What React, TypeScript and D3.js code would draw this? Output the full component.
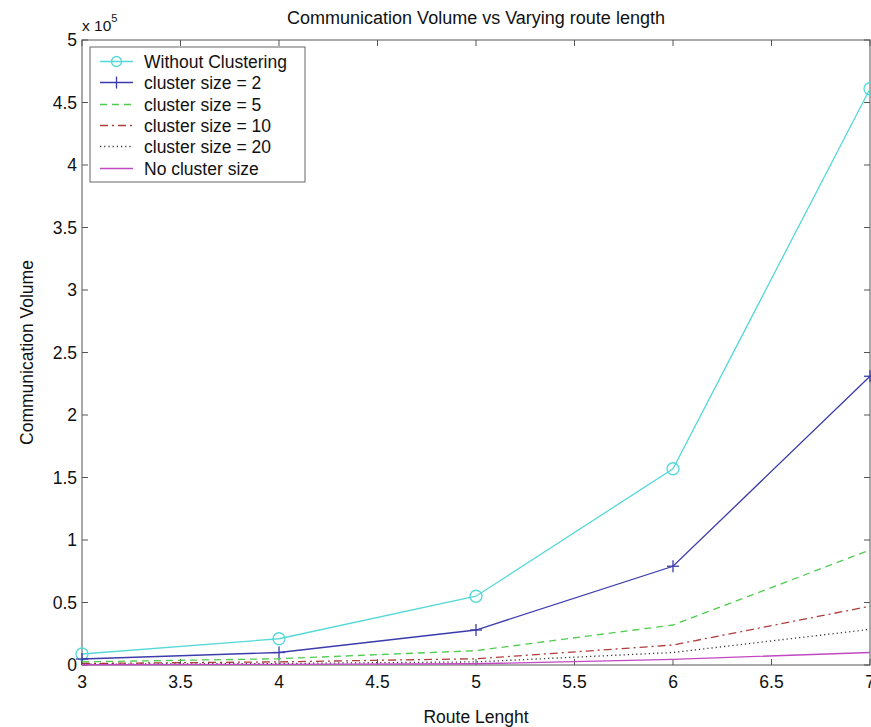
import React, { useRef, useEffect } from 'react';
import * as d3 from 'd3';

const routeLengths = [3, 4, 5, 6, 7];

const withoutClustering = [8800, 21000, 55000, 157000, 461000];
const cluster2 = [4800, 10000, 28000, 79000, 231000];
const cluster5 = [2500, 5000, 11500, 32000, 92000];
const cluster10 = [1200, 2500, 5000, 16000, 47000];
const cluster20 = [600, 1200, 2500, 10000, 28500];
const noCluster = [200, 500, 1000, 4500, 10000];

const seriesNames = [
  'Without Clustering',
  'cluster size = 2',
  'cluster size = 5',
  'cluster size = 10',
  'cluster size = 20',
  'No cluster size',
];

const xTicks = [3, 3.5, 4, 4.5, 5, 5.5, 6, 6.5, 7];
const yTicks = [0, 0.5, 1, 1.5, 2, 2.5, 3, 3.5, 4, 4.5, 5];

const App = () => {
  const svgRef = useRef<SVGSVGElement>(null);

  useEffect(() => {
    const width = 871;
    const height = 727;
    const margin = { top: 40, right: 1, bottom: 62, left: 82 };
    const font = 'Liberation Sans, Arial, sans-serif';
    const fs = 17.5;

    const svg = d3.select(svgRef.current);
    svg.selectAll('*').remove();

    const x = d3.scaleLinear()
      .domain([3, 7])
      .range([margin.left, width - margin.right]);
    const y = d3.scaleLinear()
      .domain([0, 5e5])
      .range([height - margin.bottom, margin.top]);

    const series = [
      { name: seriesNames[0], values: withoutClustering, color: '#55d8d8', dash: null, marker: 'circle' },
      { name: seriesNames[1], values: cluster2, color: '#3b3bab', dash: null, marker: 'plus' },
      { name: seriesNames[2], values: cluster5, color: '#4fcc4f', dash: '7,5', marker: null },
      { name: seriesNames[3], values: cluster10, color: '#b03c3c', dash: '8,4,2,4', marker: null },
      { name: seriesNames[4], values: cluster20, color: '#333333', dash: '1.2,3', marker: null },
      { name: seriesNames[5], values: noCluster, color: '#c248c2', dash: null, marker: null },
    ];

    // axes box
    const axisColor = '#555';
    svg.append('rect')
      .attr('x', x(3)).attr('y', y(5e5))
      .attr('width', x(7) - x(3)).attr('height', y(0) - y(5e5))
      .attr('fill', 'none').attr('stroke', axisColor).attr('stroke-width', 1);

    // ticks on all four sides
    const tl = 6;
    xTicks.forEach(t => {
      svg.append('line').attr('x1', x(t)).attr('x2', x(t))
        .attr('y1', y(0)).attr('y2', y(0) - tl).attr('stroke', axisColor);
      svg.append('line').attr('x1', x(t)).attr('x2', x(t))
        .attr('y1', y(5e5)).attr('y2', y(5e5) + tl).attr('stroke', axisColor);
      svg.append('text').attr('x', x(t)).attr('y', y(0) + 23)
        .attr('text-anchor', 'middle').attr('font-family', font).attr('font-size', fs)
        .attr('fill', '#111').text(String(t));
    });
    yTicks.forEach(t => {
      svg.append('line').attr('x1', x(3)).attr('x2', x(3) + tl)
        .attr('y1', y(t * 1e5)).attr('y2', y(t * 1e5)).attr('stroke', axisColor);
      svg.append('line').attr('x1', x(7)).attr('x2', x(7) - tl)
        .attr('y1', y(t * 1e5)).attr('y2', y(t * 1e5)).attr('stroke', axisColor);
      svg.append('text').attr('x', x(3) - 5).attr('y', y(t * 1e5) + 6)
        .attr('text-anchor', 'end').attr('font-family', font).attr('font-size', fs)
        .attr('fill', '#111').text(String(t));
    });

    // exponent
    const exp = svg.append('text').attr('x', 82).attr('y', 31)
      .attr('font-family', font).attr('font-size', 15.5).attr('fill', '#111');
    exp.append('tspan').text('x 10');
    exp.append('tspan').attr('dy', -9).attr('font-size', 11).text('5');

    // lines
    const line = d3.line<number>()
      .x((_, i) => x(routeLengths[i]))
      .y(d => y(d));

    series.forEach(s => {
      svg.append('path')
        .datum(s.values)
        .attr('d', line)
        .attr('fill', 'none')
        .attr('stroke', s.color)
        .attr('stroke-width', 1.3)
        .attr('stroke-dasharray', s.dash);
      if (s.marker === 'circle') {
        svg.selectAll(null).data(s.values).enter().append('circle')
          .attr('cx', (_, i) => x(routeLengths[i])).attr('cy', d => y(d))
          .attr('r', 6).attr('fill', 'none').attr('stroke', s.color).attr('stroke-width', 1.3);
      } else if (s.marker === 'plus') {
        const g = svg.selectAll(null).data(s.values).enter().append('g')
          .attr('transform', (d, i) => `translate(${x(routeLengths[i])},${y(d)})`);
        g.append('line').attr('x1', -6).attr('x2', 6).attr('stroke', s.color).attr('stroke-width', 1.3);
        g.append('line').attr('y1', -6).attr('y2', 6).attr('stroke', s.color).attr('stroke-width', 1.3);
      }
    });

    // legend
    const lg = svg.append('g');
    lg.append('rect').attr('x', 90).attr('y', 47).attr('width', 215).attr('height', 135)
      .attr('fill', 'white').attr('stroke', '#666');
    series.forEach((s, i) => {
      const cy = Math.round(61 + i * 21.3) + 0.5;
      lg.append('line').attr('x1', 100).attr('x2', 133).attr('y1', cy).attr('y2', cy)
        .attr('stroke', s.color).attr('stroke-width', 1.3).attr('stroke-dasharray', s.dash);
      if (s.marker === 'circle') {
        lg.append('circle').attr('cx', 116.5).attr('cy', cy).attr('r', 5)
          .attr('fill', 'none').attr('stroke', s.color).attr('stroke-width', 1.3);
      } else if (s.marker === 'plus') {
        lg.append('line').attr('x1', 116.5).attr('x2', 116.5).attr('y1', cy - 6).attr('y2', cy + 6)
          .attr('stroke', s.color).attr('stroke-width', 1.3);
      }
      lg.append('text').attr('x', 144).attr('y', cy + 6)
        .attr('font-family', font).attr('font-size', 17.5).attr('fill', '#111').text(s.name);
    });

    // titles
    svg.append('text').attr('x', 476).attr('y', 24).attr('text-anchor', 'middle')
      .attr('font-family', font).attr('font-size', 18).attr('fill', '#111')
      .text('Communication Volume vs Varying route length');
    svg.append('text').attr('x', 476).attr('y', 723).attr('text-anchor', 'middle')
      .attr('font-family', font).attr('font-size', 17.5).attr('fill', '#111')
      .text('Route Lenght');
    svg.append('text')
      .attr('transform', `translate(33,${(y(0) + y(5e5)) / 2}) rotate(-90)`)
      .attr('text-anchor', 'middle')
      .attr('font-family', font).attr('font-size', 17.5).attr('fill', '#111')
      .text('Communication Volume');
  }, []);

  return (
    <svg ref={svgRef} width={871} height={727}
      style={{ position: 'absolute', left: 0, top: 0, background: 'white' }} />
  );
};

export default App;
